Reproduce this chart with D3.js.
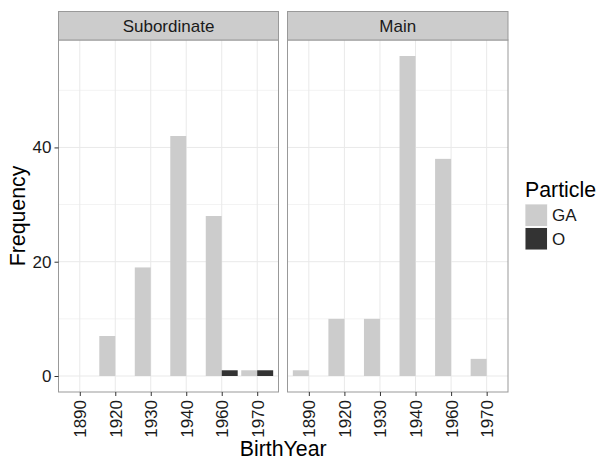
<!DOCTYPE html>
<html>
<head>
<meta charset="utf-8">
<script src="https://cdn.jsdelivr.net/npm/d3@7"></script>
<style>
  body { margin: 0; background: #fff; }
  svg { display: block; font-family: "Liberation Sans", Arial, sans-serif; }
</style>
</head>
<body>
<svg id="chart" width="599" height="460"></svg>
<script>
// Birth-year categories shared by both facets
const years = ["1890", "1920", "1930", "1940", "1960", "1970"];
const particles = ["GA", "O"];
const facets = ["Subordinate", "Main"];

// Counts per facet, per particle, per birth year
const subordinateGA = [0, 7, 19, 42, 28, 1];
const subordinateO  = [0, 0, 0, 0, 1, 1];
const mainGA        = [1, 10, 10, 56, 38, 3];
const mainO         = [0, 0, 0, 0, 0, 0];

const yMajorTicks = [0, 20, 40];
const yMinorTicks = [10, 30, 50];

const fills = { GA: "#cccccc", O: "#333333" };

const seriesByFacet = {
  Subordinate: { GA: subordinateGA, O: subordinateO },
  Main: { GA: mainGA, O: mainO }
};

const FONT = "Liberation Sans, Arial, sans-serif";
const tickSize = 17;
const titleSize = 21.3;

const svg = d3.select("#chart");

const panelTop = 40, panelBottom = 392;
const panels = [
  { name: facets[0], x0: 58.5, x1: 278.5 },
  { name: facets[1], x0: 287.5, x1: 508 }
];

// Continuous y with 5% expansion around [0, max]
const yMax = d3.max([...subordinateGA, ...subordinateO, ...mainGA, ...mainO]);
const pad = yMax * 0.05;
const y = d3.scaleLinear().domain([-pad, yMax + pad]).range([panelBottom, panelTop]);

panels.forEach((p, pi) => {
  // Discrete x with 0.6 units padding either side
  const x = d3.scaleLinear().domain([0.4, years.length + 0.6]).range([p.x0, p.x1]);
  const g = svg.append("g");

  // panel background
  g.append("rect").attr("x", p.x0).attr("y", panelTop)
    .attr("width", p.x1 - p.x0).attr("height", panelBottom - panelTop)
    .attr("fill", "#ffffff");

  // minor gridlines
  g.selectAll(".ymin").data(yMinorTicks).join("line")
    .attr("x1", p.x0).attr("x2", p.x1)
    .attr("y1", d => y(d)).attr("y2", d => y(d))
    .attr("stroke", "#f3f3f3").attr("stroke-width", 1);

  // major gridlines
  g.selectAll(".ymaj").data(yMajorTicks).join("line")
    .attr("x1", p.x0).attr("x2", p.x1)
    .attr("y1", d => y(d)).attr("y2", d => y(d))
    .attr("stroke", "#e9e9e9").attr("stroke-width", 1);
  g.selectAll(".xmaj").data(years).join("line")
    .attr("x1", (d, i) => x(i + 1)).attr("x2", (d, i) => x(i + 1))
    .attr("y1", panelTop).attr("y2", panelBottom)
    .attr("stroke", "#e9e9e9").attr("stroke-width", 1);

  // dodged bars: GA on the left half, O on the right half
  const series = seriesByFacet[p.name];
  const barW = 0.45;
  particles.forEach((part, k) => {
    const data = years.map((yr, i) => ({ i, v: series[part][i] })).filter(d => d.v > 0);
    g.selectAll(".bar-" + part).data(data).join("rect")
      .attr("x", d => x(d.i + 1 - barW + k * barW))
      .attr("width", d => x(d.i + 1 + barW) - x(d.i + 1))
      .attr("y", d => y(d.v))
      .attr("height", d => y(0) - y(d.v))
      .attr("fill", fills[part]);
  });

  // panel border
  g.append("rect").attr("x", p.x0).attr("y", panelTop)
    .attr("width", p.x1 - p.x0).attr("height", panelBottom - panelTop)
    .attr("fill", "none").attr("stroke", "#999999").attr("stroke-width", 1);

  // strip
  g.append("rect").attr("x", p.x0).attr("y", 11.5)
    .attr("width", p.x1 - p.x0).attr("height", panelTop - 11.5)
    .attr("fill", "#cccccc").attr("stroke", "#999999").attr("stroke-width", 1);
  g.append("text").attr("x", (p.x0 + p.x1) / 2).attr("y", 32)
    .attr("text-anchor", "middle").attr("font-size", tickSize).attr("fill", "#1a1a1a")
    .attr("font-family", FONT)
    .text(p.name);

  // x axis
  const xAxis = d3.axisBottom(x).tickValues(d3.range(1, years.length + 1))
    .tickFormat(d => years[d - 1]).tickSize(4).tickSizeOuter(0);
  const ax = g.append("g").attr("transform", `translate(0,${panelBottom})`).call(xAxis);
  ax.attr("font-size", null).attr("font-family", null);
  ax.select(".domain").remove();
  ax.selectAll(".tick line").attr("stroke", "#333333");
  ax.selectAll(".tick text")
    .attr("transform", "rotate(-90)")
    .attr("x", -8).attr("y", 0).attr("dy", "0.35em")
    .attr("text-anchor", "end")
    .style("font-size", tickSize + "px").attr("fill", "#1a1a1a")
    .style("font-family", FONT);

  // y axis on first panel only
  if (pi === 0) {
    const yAxis = d3.axisLeft(y).tickValues(yMajorTicks).tickSize(4).tickSizeOuter(0);
    const ay = g.append("g").attr("transform", `translate(${p.x0},0)`).call(yAxis);
    ay.attr("font-size", null).attr("font-family", null);
    ay.select(".domain").remove();
    ay.selectAll(".tick line").attr("stroke", "#333333");
    ay.selectAll(".tick text").attr("x", -7)
      .style("font-size", tickSize + "px").attr("fill", "#1a1a1a")
      .style("font-family", FONT);
  }
});

// axis titles
svg.append("text").attr("x", (58.5 + 508) / 2).attr("y", 456)
  .attr("text-anchor", "middle").attr("font-size", titleSize).attr("fill", "#000")
  .attr("font-family", FONT)
  .text("BirthYear");
svg.append("text").attr("transform", `translate(25,${(panelTop + panelBottom) / 2}) rotate(-90)`)
  .attr("text-anchor", "middle").attr("font-size", titleSize).attr("fill", "#000")
  .attr("font-family", FONT)
  .text("Frequency");

// legend
const lg = svg.append("g").attr("transform", "translate(524,0)");
lg.append("text").attr("x", 1).attr("y", 197).attr("font-size", titleSize).attr("fill", "#000")
  .attr("font-family", FONT)
  .text("Particle");
particles.forEach((part, k) => {
  const top = 203.5 + k * 23.5;
  lg.append("rect").attr("x", 0.5).attr("y", top).attr("width", 23.5).attr("height", 23.5)
    .attr("fill", "#f2f2f2").attr("stroke", "#ffffff");
  lg.append("rect").attr("x", 1.5).attr("y", top + 1).attr("width", 21.5).attr("height", 21.5)
    .attr("fill", fills[part]);
  lg.append("text").attr("x", 28).attr("y", top + 12).attr("dy", "0.35em")
    .attr("font-size", tickSize).attr("fill", "#1a1a1a")
    .attr("font-family", FONT).text(part);
});
</script>
</body>
</html>
